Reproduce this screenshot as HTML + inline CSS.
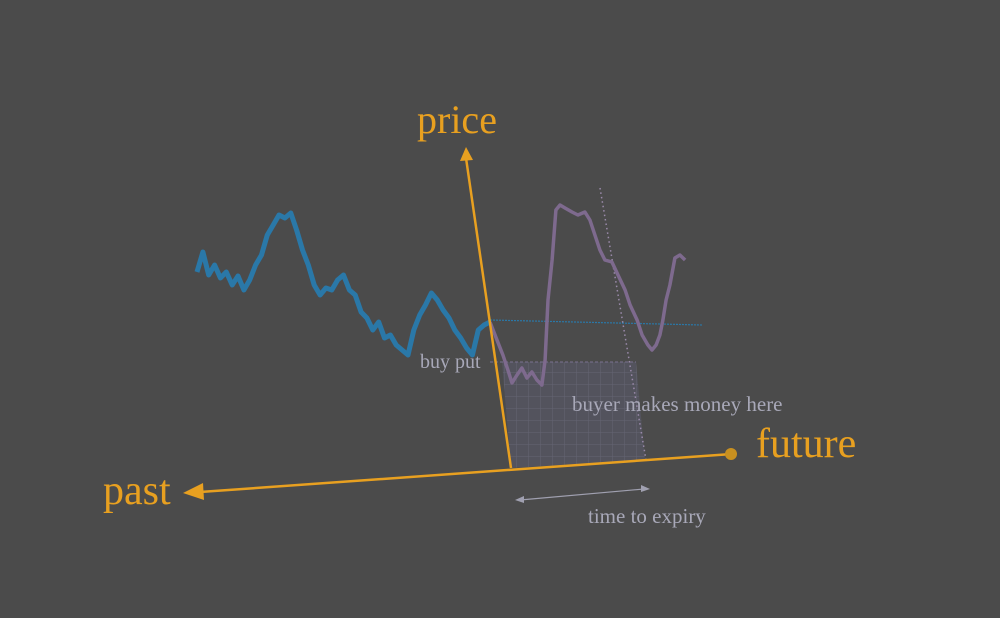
<!DOCTYPE html>
<html><head><meta charset="utf-8"><style>
html,body{margin:0;padding:0;background:#4b4b4b;}
svg{display:block;}
text{font-family:"Liberation Serif",serif;}
</style></head><body>
<svg id="c" width="1000" height="618" viewBox="0 0 1000 618">
<rect width="1000" height="618" fill="#4b4b4b"/>
<defs>
<pattern id="grid" width="12" height="12" patternUnits="userSpaceOnUse">
<rect width="12" height="12" fill="#545460"/>
<path d="M0 0H12M0 0V12" stroke="#6a6a7a" stroke-width="1"/>
</pattern>
</defs>
<g id="layer"></g>
</svg>
<script>
const pastTimes=[0,2,4,6,8,10,12,14,16,18,20,22,24,26,28,30,32,34,36,38,40,42,44,46,48,50,52,54,56,58,60,62,64,66,68,70,72,74,76,78,80,82,84,86,88,90,92,94,96,98,100];
const pastPrices=[128,148,125,135,122,128,115,124,110,120,135,145,165,175,185,182,187,170,150,135,115,105,112,110,120,125,110,105,88,82,70,78,62,65,55,50,45,70,85,95,107,100,90,82,70,62,52,45,70,75,78];
const futureTimes=[100,102.4,104.4,106.1,107.5,109.2,110.9,112.6,114.3,116,117.7,118.8,119.8,121.2,122.5,123.9,125.6,128,130,132.4,134.1,135.8,137.5,139.2,141.6,143.7,146.1,147.8,150.2,151.9,153.9,155.3,156.7,158,159,160.1,161.4,163.1,164.8,166.6];
const futurePrices=[78,60,45,30,17,25,32,22,28,20,15,40,100,140,190,195,192,188,185,188,180,165,150,140,138,125,110,95,80,65,55,50,55,65,80,100,115,142,145,140];
const strikePrice=38;

function px(t){return 197+t*2.93;}
function py(p){return 400-p;}
const g=document.getElementById('layer');
const NS='http://www.w3.org/2000/svg';
function mk(tag,attrs){const e=document.createElementNS(NS,tag);for(const k in attrs)e.setAttribute(k,attrs[k]);g.appendChild(e);return e;}

const zTop=py(strikePrice);
const gr=mk('polygon',{points:`502,${zTop} 636,${zTop} 645,460 511,468`,fill:'url(#grid)',opacity:'0.85'});



const sl=mk('line',{x1:490,y1:zTop,x2:636,y2:zTop,stroke:'#7a7090','stroke-width':1,'stroke-dasharray':'3 2'});



const cur=mk('line',{x1:490,y1:320,x2:702,y2:325,stroke:'#2a78a8','stroke-width':1.2,'stroke-dasharray':'2 1'});



const ex=mk('line',{x1:600,y1:188,x2:646,y2:460,stroke:'#9a8aaa','stroke-width':1.5,'stroke-dasharray':'1.5 3'});



function path(ts,ps){return ts.map((t,i)=>(i?'L':'M')+px(t).toFixed(1)+' '+py(ps[i]).toFixed(1)).join('');}
const fp=mk('path',{d:path(futureTimes,futurePrices),fill:'none',stroke:'#7e6a8e','stroke-width':3.5,'stroke-linejoin':'round'});


const pp=mk('path',{d:path(pastTimes,pastPrices),fill:'none',stroke:'#2a78a8','stroke-width':5,'stroke-linejoin':'round'});



const ya=mk('line',{x1:511,y1:468,x2:466,y2:158,stroke:'#e8a020','stroke-width':2.5});


const yh=mk('polygon',{points:'466,147 460,161 473,160',fill:'#e8a020'});


const xa=mk('line',{x1:200,y1:492,x2:732,y2:454,stroke:'#e8a020','stroke-width':2.5});


const xh1=mk('polygon',{points:'183,493 203,483 204,500',fill:'#e8a020'});


const xh2=mk('circle',{cx:731,cy:454,r:6,fill:'#c89020'});



const ea=mk('line',{x1:520,y1:500,x2:644,y2:489,stroke:'#a0a0b0','stroke-width':1.2});


const ea1=mk('polygon',{points:'515,500 524,496 524,503',fill:'#a0a0b0'});


const ea2=mk('polygon',{points:'650,489 641,485 641,492',fill:'#a0a0b0'});



function tx(s,x,y,size,fill,name){const t=mk('text',{x:x,y:y,'font-size':size,fill:fill});t.textContent=s;}
tx('price',417,133,40,'#e8a020','price-label');
tx('future',756,457,42,'#e8a020','future-label');
tx('past',103,504,42,'#e8a020','past-label');
tx('buy put',420,368,20,'#a8a8b8','buy-put-label');
tx('buyer makes money here',572,411,21,'#a8a8b8','money-zone-label');
tx('time to expiry',588,523,21,'#a8a8b8','time-to-expiry-label');
</script>
</body></html>
